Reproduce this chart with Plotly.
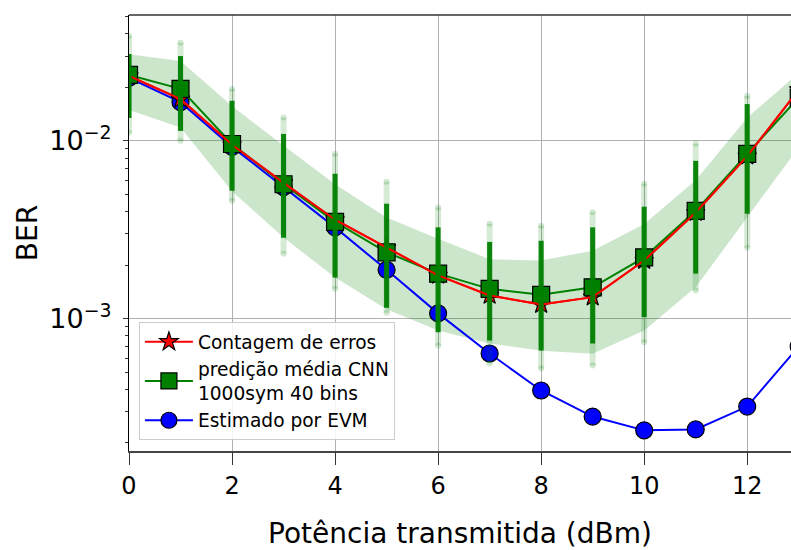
import plotly.graph_objects as go

# Transmit power (dBm)
potencia = [0, 1, 2, 3, 4, 5, 6, 7, 8, 9, 10, 11, 12, 13]

# BER from error counting
ber_contagem = [0.0232, 0.0172, 0.0095, 0.0058, 0.0036, 0.00250, 0.00175, 0.00135,
                0.00120, 0.00132, 0.00212, 0.00395, 0.0082, 0.0194]

# Mean CNN prediction (1000 symbols, 40 bins)
ber_cnn_media = [0.0235, 0.0196, 0.0096, 0.0057, 0.0035, 0.00236, 0.00179, 0.00147,
                 0.00136, 0.00150, 0.00221, 0.00404, 0.00845, 0.0175]

# BER estimated from EVM
ber_evm = [0.0226, 0.0165, 0.00925, 0.0055, 0.00326, 0.00188, 0.00107, 0.000636,
           0.000394, 0.000281, 0.000235, 0.000238, 0.00032, 0.000697]

# Spread band of the CNN predictions
banda_sup = [0.0307, 0.0281, 0.0157, 0.0094, 0.0057, 0.0037, 0.00281, 0.00216,
             0.00212, 0.00241, 0.0034, 0.0060, 0.0135, 0.0241]
banda_inf = [0.0149, 0.0119, 0.0052, 0.00286, 0.0017, 0.00113, 0.000857, 0.000724,
             0.00066, 0.000635, 0.000857, 0.0015, 0.0037, 0.0092]

# Individual CNN predictions per power: outer extent and dense core
nuvem_x = [0, 1, 2, 3, 4, 5, 6, 7, 8, 9, 10, 11, 12]
nuvem_max = [0.0389, 0.0356, 0.0196, 0.01352, 0.00845, 0.00588, 0.00422, 0.00342,
             0.00333, 0.00396, 0.00573, 0.00962, 0.0179]
nucleo_max = [0.0308, 0.0300, 0.0168, 0.01094, 0.00653, 0.00443, 0.00326, 0.0027,
              0.00274, 0.00326, 0.00426, 0.00772, 0.0161]
nucleo_min = [0.01345, 0.01137, 0.00524, 0.00285, 0.0017, 0.00115, 0.000838, 0.000752,
              0.000661, 0.000724, 0.00102, 0.00179, 0.00389]
nuvem_min = [0.0111, 0.0100, 0.0046, 0.00232, 0.00147, 0.00108, 0.000705, 0.000559,
             0.000524, 0.000545, 0.000736, 0.00144, 0.0025]

x_ticks = [0, 2, 4, 6, 8, 10, 12]
y_ticks = [1e-3, 1e-2]
y_ticktext = ["10<sup>\u22123</sup>", "10<sup>\u22122</sup>"]

FONT = "DejaVu Sans"
VERDE = "#008000"
VERMELHO = "#ff0000"
AZUL = "#0000ff"


def segmentos(xs, lo, hi):
    sx, sy = [], []
    for x, a, b in zip(xs, lo, hi):
        sx += [x, x, None]
        sy += [a, b, None]
    return sx, sy


fig = go.Figure()

# Shaded band
fig.add_trace(go.Scatter(
    x=potencia + potencia[::-1],
    y=banda_sup + banda_inf[::-1],
    fill="toself", fillcolor="rgba(0,128,0,0.2)",
    line=dict(width=0), mode="lines", hoverinfo="skip", showlegend=False,
))

# EVM estimate
fig.add_trace(go.Scatter(
    x=potencia, y=ber_evm, mode="lines+markers", name="Estimado por EVM",
    line=dict(color=AZUL, width=2),
    marker=dict(symbol="circle", size=17, color=AZUL, line=dict(color="black", width=1.2)),
    legendrank=3,
))

# Error counting (stars sit under the squares)
fig.add_trace(go.Scatter(
    x=potencia, y=ber_contagem, mode="lines+markers", name="Contagem de erros",
    line=dict(color=VERMELHO, width=2),
    marker=dict(symbol="star", size=14, color=VERMELHO, line=dict(color="black", width=1.2)),
    legendrank=1,
))

# CNN mean prediction
fig.add_trace(go.Scatter(
    x=potencia, y=ber_cnn_media, mode="lines+markers",
    name="predição média CNN<br>1000sym 40 bins",
    line=dict(color=VERDE, width=2),
    marker=dict(symbol="square", size=17, color=VERDE, line=dict(color="black", width=1.2)),
    legendrank=2,
))

# Error counting line drawn again above the squares
fig.add_trace(go.Scatter(
    x=potencia, y=ber_contagem, mode="lines",
    line=dict(color=VERMELHO, width=2), showlegend=False, hoverinfo="skip",
))

# Prediction clouds: faint tails, dense core, extreme points
tx, ty = segmentos(nuvem_x, nuvem_min, nuvem_max)
fig.add_trace(go.Scatter(
    x=tx, y=ty, mode="lines", line=dict(color="rgba(0,128,0,0.16)", width=6),
    showlegend=False, hoverinfo="skip",
))
cx, cy = segmentos(nuvem_x, nucleo_min, nucleo_max)
fig.add_trace(go.Scatter(
    x=cx, y=cy, mode="lines", line=dict(color="rgba(0,128,0,0.95)", width=5),
    showlegend=False, hoverinfo="skip",
))
fig.add_trace(go.Scatter(
    x=nuvem_x + nuvem_x, y=nuvem_max + nuvem_min, mode="markers",
    marker=dict(size=6, color="rgba(0,128,0,0.18)"),
    showlegend=False, hoverinfo="skip",
))

minor_vals = [m * 10 ** e for e in (-4, -3, -2) for m in range(2, 10)]

fig.update_layout(
    width=791, height=550,
    margin=dict(l=129, r=0, t=15, b=99),
    paper_bgcolor="white", plot_bgcolor="white",
    font=dict(family=FONT, color="black"),
    xaxis=dict(
        range=[0, 12.85], tickmode="array", tickvals=x_ticks, automargin=False,
        showgrid=True, gridcolor="#b0b0b0", gridwidth=1, zeroline=False,
        showline=True, linecolor="#444444", linewidth=1.5,
        ticks="outside", ticklen=12, tickcolor="#333333", tickwidth=1,
        tickfont=dict(size=24, family=FONT),
        title=dict(text="Potência transmitida (dBm)", font=dict(size=28, family=FONT), standoff=35),
    ),
    yaxis=dict(
        type="log", range=[-3.745, -1.292], tickmode="array", automargin=False,
        tickvals=y_ticks, ticktext=y_ticktext,
        showgrid=True, gridcolor="#b0b0b0", gridwidth=1, zeroline=False,
        showline=True, linecolor="black", linewidth=1.2,
        ticks="outside", ticklen=5, tickcolor="#333333", tickwidth=1,
        tickfont=dict(size=27, family=FONT), ticklabelstandoff=6,
        minor=dict(tickmode="array", tickvals=minor_vals, ticks="outside",
                   ticklen=3, tickcolor="#333333", showgrid=False),
        title=dict(text="BER", font=dict(size=28, family=FONT), standoff=3),
    ),
    legend=dict(
        x=0.015, y=0.025, xanchor="left", yanchor="bottom",
        bgcolor="rgba(255,255,255,0.85)", bordercolor="#cccccc", borderwidth=1,
        font=dict(size=18.6, family=FONT), itemwidth=48, tracegroupgap=0,
    ),
    shapes=[dict(type="line", xref="paper", yref="paper", x0=0, x1=1, y0=1, y1=1,
                 line=dict(color="#333333", width=1.5))],
)

fig.write_html("out.html")
